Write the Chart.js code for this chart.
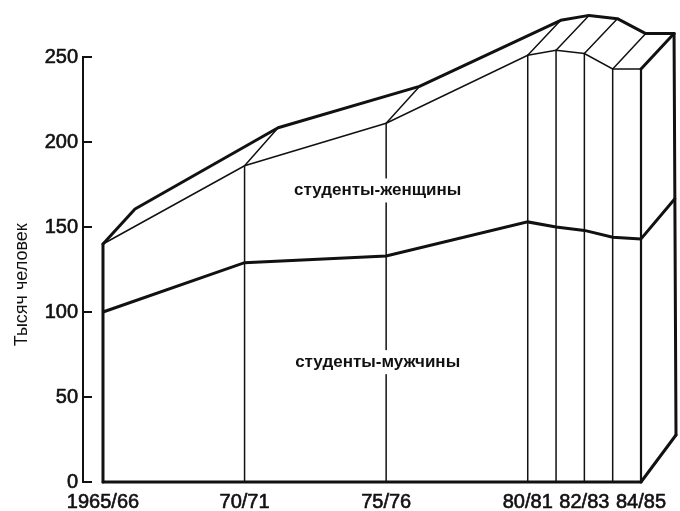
<!DOCTYPE html>
<html>
<head>
<meta charset="utf-8">
<script src="https://cdn.jsdelivr.net/npm/chart.js@4/dist/chart.umd.min.js"></script>
<style>
  html, body { margin: 0; padding: 0; background: #fff; }
  #wrap { width: 680px; height: 511px; }
</style>
</head>
<body>
<div id="wrap"><canvas id="myChart" width="680" height="511"></canvas></div>
<script>
// data (тысяч человек)
const years = [1965, 1970, 1975, 1980, 1981, 1982, 1983, 1984];
const totalStudents = [140, 186, 211, 251, 254, 252, 243, 243];
const maleStudents = [100, 129, 133, 153, 150, 148, 144, 143];

const xTickYears = [1965, 1970, 1975, 1980, 1982, 1984];
const xTickLabels = ['1965/66', '70/71', '75/76', '80/81', '82/83', '84/85'];
const yTicks = [0, 50, 100, 150, 200, 250];

const areaLabels = ['студенты-женщины', 'студенты-мужчины'];
const yTitle = 'Тысяч человек';

const ink = '#111';
const fontFamily = '"Liberation Sans", Arial, sans-serif';

// 3d depth of the block, a bit deeper near the bottom (like the print)
const depthAt = (py, area) => {
  const t = (py - area.top) / (area.bottom - area.top);
  return { dx: 33 + 2 * t, dy: -(35 + 12 * t) };
};

const seg = (c, x1, y1, x2, y2) => {
  c.beginPath();
  c.moveTo(x1, y1);
  c.lineTo(x2, y2);
  c.stroke();
};

const depthPlugin = {
  id: 'depthPlugin',
  beforeDatasetsDraw(chart) {
    const c = chart.ctx;
    const area = chart.chartArea;
    const xs = chart.scales.x;
    const ys = chart.scales.y;
    const top = chart.getDatasetMeta(0).data;
    const base = ys.getPixelForValue(0);

    c.save();
    c.strokeStyle = ink;
    c.lineCap = 'round';
    c.lineJoin = 'round';

    // thin seams on the front face
    c.lineWidth = 1.5;
    top.forEach((p, i) => {
      if (i === 0 || i === top.length - 1) return;
      seg(c, p.x, base, p.x, p.y);
    });
    // thin depth edges on the top
    top.forEach((p, i) => {
      if (i === 0 || i === top.length - 1) return;
      const d = depthAt(p.y, area);
      seg(c, p.x, p.y, p.x + d.dx, p.y + d.dy);
    });

    // labels on white, they cut the 75/76 seam
    c.font = 'bold 17px ' + fontFamily;
    c.textAlign = 'center';
    c.textBaseline = 'middle';
    const lx = xs.getPixelForValue(1974.7);
    [[areaLabels[0], 171.5], [areaLabels[1], 70.5]].forEach(([txt, v]) => {
      const ly = ys.getPixelForValue(v);
      const w = c.measureText(txt).width;
      c.fillStyle = '#fff';
      c.fillRect(lx - w / 2 - 3, ly - 12, w + 6, 24);
      c.fillStyle = ink;
      c.fillText(txt, lx, ly);
    });
    c.restore();
  },
  afterDatasetsDraw(chart) {
    const c = chart.ctx;
    const area = chart.chartArea;
    const ys = chart.scales.y;
    const top = chart.getDatasetMeta(0).data;
    const male = chart.getDatasetMeta(1).data;
    const base = ys.getPixelForValue(0);
    const first = top[0];
    const last = top[top.length - 1];
    const lastMale = male[male.length - 1];

    c.save();
    c.strokeStyle = ink;
    c.lineCap = 'round';
    c.lineJoin = 'round';

    // front right edge
    c.lineWidth = 2.2;
    seg(c, last.x, base, last.x, last.y);

    c.lineWidth = 3;
    // left edge and bottom
    seg(c, first.x, base, first.x, first.y);
    seg(c, first.x, base, last.x, base);

    // back top silhouette
    c.beginPath();
    top.forEach((p, i) => {
      const d = depthAt(p.y, area);
      if (i === 0) {
        c.moveTo(p.x, p.y);
        c.lineTo(p.x + 32, p.y - 35);
      } else {
        c.lineTo(p.x + d.dx, p.y + d.dy);
      }
    });
    c.stroke();

    // right side face
    const dTop = depthAt(last.y, area);
    const dMale = depthAt(lastMale.y, area);
    const dBase = depthAt(base, area);
    seg(c, last.x, last.y, last.x + dTop.dx, last.y + dTop.dy);
    seg(c, lastMale.x, lastMale.y, lastMale.x + dMale.dx, lastMale.y + dMale.dy);
    seg(c, last.x, base, last.x + dBase.dx, base + dBase.dy);
    c.beginPath();
    c.moveTo(last.x + dTop.dx, last.y + dTop.dy);
    c.lineTo(last.x + dMale.dx, lastMale.y + dMale.dy);
    c.lineTo(last.x + dBase.dx, base + dBase.dy);
    c.stroke();

    // inward tick marks on the value axis
    c.lineWidth = 2;
    c.lineCap = 'butt';
    yTicks.forEach(v => {
      const py = ys.getPixelForValue(v);
      seg(c, area.left - 1, py, area.left + 9, py);
    });

    // axis title
    c.fillStyle = ink;
    c.font = '18px ' + fontFamily;
    c.textAlign = 'center';
    c.textBaseline = 'middle';
    c.translate(22, ys.getPixelForValue(116));
    c.rotate(-Math.PI / 2);
    c.fillText(yTitle, 0, 0);
    c.restore();
  }
};

const ctx = document.getElementById('myChart').getContext('2d');
new Chart(ctx, {
  type: 'line',
  data: {
    datasets: [
      {
        label: 'всего',
        data: years.map((y, i) => ({ x: y, y: totalStudents[i] })),
        borderColor: ink,
        borderWidth: 1.5,
        pointRadius: 0,
        tension: 0,
        fill: false,
        clip: false
      },
      {
        label: 'мужчины',
        data: years.map((y, i) => ({ x: y, y: maleStudents[i] })),
        borderColor: ink,
        borderWidth: 3,
        pointRadius: 0,
        tension: 0,
        fill: false,
        clip: false
      }
    ]
  },
  options: {
    responsive: false,
    animation: false,
    layout: { padding: { top: 57, right: 4, left: 0, bottom: 0 } },
    plugins: {
      legend: { display: false },
      tooltip: { enabled: false }
    },
    scales: {
      x: {
        type: 'linear',
        min: 1964.294,
        max: 1985.236,
        grid: { display: false, drawTicks: false },
        border: { display: false },
        afterBuildTicks: s => { s.ticks = xTickYears.map(v => ({ value: v })); },
        afterFit: s => { s.height = 29; },
        ticks: {
          autoSkip: false,
          maxRotation: 0,
          padding: 8,
          color: ink,
          textStrokeColor: ink,
          textStrokeWidth: 0.6,
          font: { family: fontFamily, size: 20 },
          callback: v => xTickLabels[xTickYears.indexOf(v)]
        }
      },
      y: {
        min: 0,
        max: 250,
        grid: { display: false, drawTicks: false },
        border: { display: true, color: ink, width: 2 },
        afterBuildTicks: s => { s.ticks = yTicks.map(v => ({ value: v })); },
        afterFit: s => { s.width = 83; },
        ticks: {
          padding: 5,
          color: ink,
          textStrokeColor: ink,
          textStrokeWidth: 0.6,
          font: { family: fontFamily, size: 20 }
        }
      }
    }
  },
  plugins: [depthPlugin]
});
</script>
</body>
</html>
